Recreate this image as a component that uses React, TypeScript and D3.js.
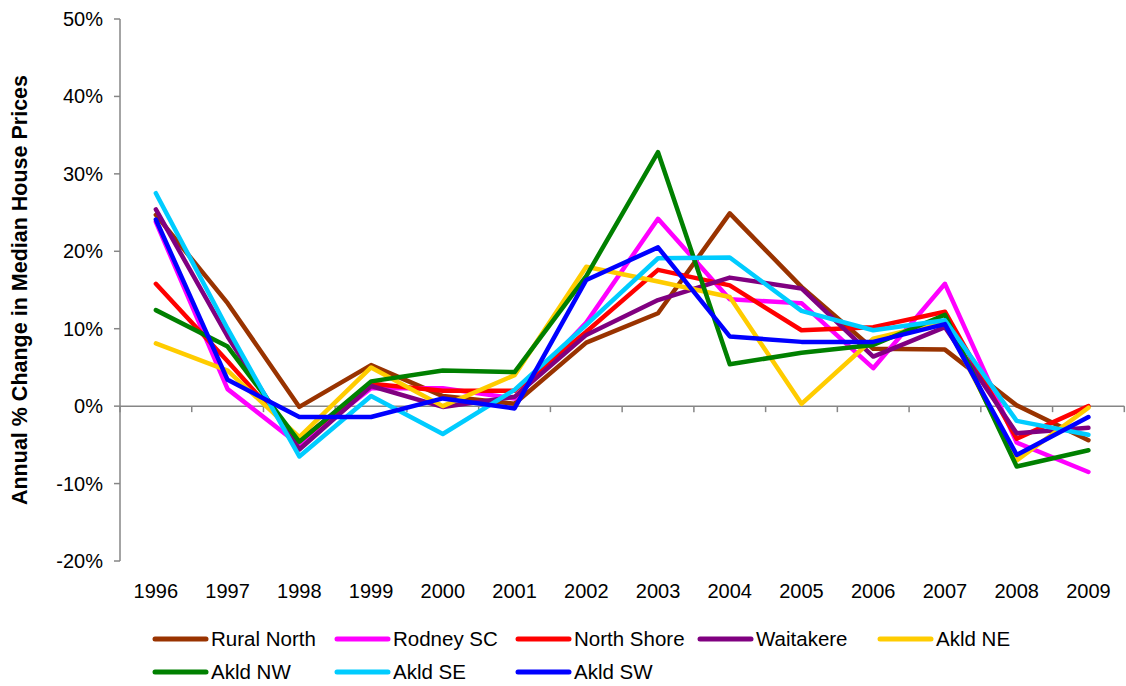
import React from "react";
import * as d3 from "d3";

const years = ["1996","1997","1998","1999","2000","2001","2002","2003","2004","2005","2006","2007","2008","2009"];
const yTicks = [-20, -10, 0, 10, 20, 30, 40, 50];

const ruralNorth = [24.7, 13.3, -0.1, 5.3, 1.3, 0.3, 8.2, 12.0, 24.9, 15.4, 7.4, 7.3, 0.1, -4.4];
const rodneySC = [23.8, 2.2, -5.0, 2.3, 2.3, 1.0, 10.8, 24.2, 13.8, 13.3, 4.9, 15.8, -4.7, -8.5];
const northShore = [15.8, 5.8, -4.5, 2.9, 2.0, 2.0, 9.6, 17.6, 15.6, 9.8, 10.2, 12.2, -4.2, 0.0];
const waitakere = [25.4, 9.0, -5.6, 2.6, -0.1, 1.2, 9.2, 13.7, 16.6, 15.2, 6.4, 10.2, -3.5, -2.8];
const akldNE = [8.1, 4.6, -4.0, 5.0, 0.0, 4.0, 18.0, 16.1, 14.1, 0.3, 8.7, 10.9, -7.0, -0.2];
const akldNW = [12.4, 7.7, -4.6, 3.2, 4.6, 4.4, 16.8, 32.8, 5.4, 6.9, 7.9, 11.8, -7.8, -5.7];
const akldSE = [27.5, 10.0, -6.5, 1.3, -3.6, 2.1, 10.5, 19.1, 19.2, 12.3, 9.8, 11.1, -1.9, -3.7];
const akldSW = [24.1, 3.4, -1.4, -1.4, 1.0, -0.3, 16.3, 20.5, 9.0, 8.3, 8.3, 10.6, -6.3, -1.4];

const seriesNames = ["Rural North","Rodney SC","North Shore","Waitakere","Akld NE","Akld NW","Akld SE","Akld SW"];
const seriesValues = [ruralNorth, rodneySC, northShore, waitakere, akldNE, akldNW, akldSE, akldSW];
const seriesColors = ["#993300","#FF00FF","#FF0000","#800080","#FFCC00","#008000","#00CCFF","#0000FF"];

const FONT = "'Liberation Sans', Arial, sans-serif";

export default function App() {
  const W = 1126, H = 686;
  const x = d3.scaleBand<string>().domain(years).range([120, 1124.3]);
  const y = d3.scaleLinear().domain([-20, 50]).range([561, 19]);
  const bw = x.bandwidth();
  const cx = (yr: string) => (x(yr) as number) + bw / 2;
  const line = d3.line<number>().x((_, i) => cx(years[i])).y((v) => y(v));
  const axisColor = "#868686";
  const legendPos = [
    [155, 639], [337, 639], [518, 639], [700, 639], [880, 639],
    [155, 672], [337, 672], [518, 672],
  ];
  return (
    <svg width={W} height={H} style={{ position: "absolute", left: 0, top: 0, background: "#fff" }} fontFamily={FONT}>
      {/* y axis */}
      <line x1={120} x2={120} y1={y(50)} y2={y(-20)} stroke={axisColor} strokeWidth={1.5} />
      {yTicks.map((t) => (
        <g key={t}>
          <line x1={114} x2={120} y1={y(t)} y2={y(t)} stroke={axisColor} strokeWidth={1.5} />
          <text x={103} y={y(t)} dy="0.35em" textAnchor="end" fontSize={20} fill="#000">{t}%</text>
        </g>
      ))}
      {/* x axis at 0 */}
      <line x1={120} x2={1124.3} y1={y(0)} y2={y(0)} stroke={axisColor} strokeWidth={1.5} />
      {years.map((yr) => (
        <line key={"t" + yr} x1={x(yr) as number} x2={x(yr) as number} y1={y(0)} y2={y(0) + 6} stroke={axisColor} strokeWidth={1.5} />
      ))}
      <line x1={1124.3} x2={1124.3} y1={y(0)} y2={y(0) + 6} stroke={axisColor} strokeWidth={1.5} />
      {years.map((yr) => (
        <text key={yr} x={cx(yr)} y={598} textAnchor="middle" fontSize={20} fill="#000">{yr}</text>
      ))}
      {/* y label */}
      <text transform={`translate(27,290) rotate(-90)`} textAnchor="middle" fontSize={21.5} fontWeight="bold" fill="#000">
        Annual % Change in Median House Prices
      </text>
      {/* series */}
      {seriesValues.map((vals, i) => (
        <path key={seriesNames[i]} d={line(vals) || ""} fill="none" stroke={seriesColors[i]} strokeWidth={4.5} strokeLinejoin="round" strokeLinecap="round" />
      ))}
      {/* legend */}
      {seriesNames.map((n, i) => (
        <g key={"lg" + n}>
          <line x1={legendPos[i][0]} x2={legendPos[i][0] + 51} y1={legendPos[i][1]} y2={legendPos[i][1]} stroke={seriesColors[i]} strokeWidth={5} strokeLinecap="round" />
          <text x={legendPos[i][0] + 56} y={legendPos[i][1]} dy="0.35em" fontSize={20.5} fill="#000">{n}</text>
        </g>
      ))}
    </svg>
  );
}
